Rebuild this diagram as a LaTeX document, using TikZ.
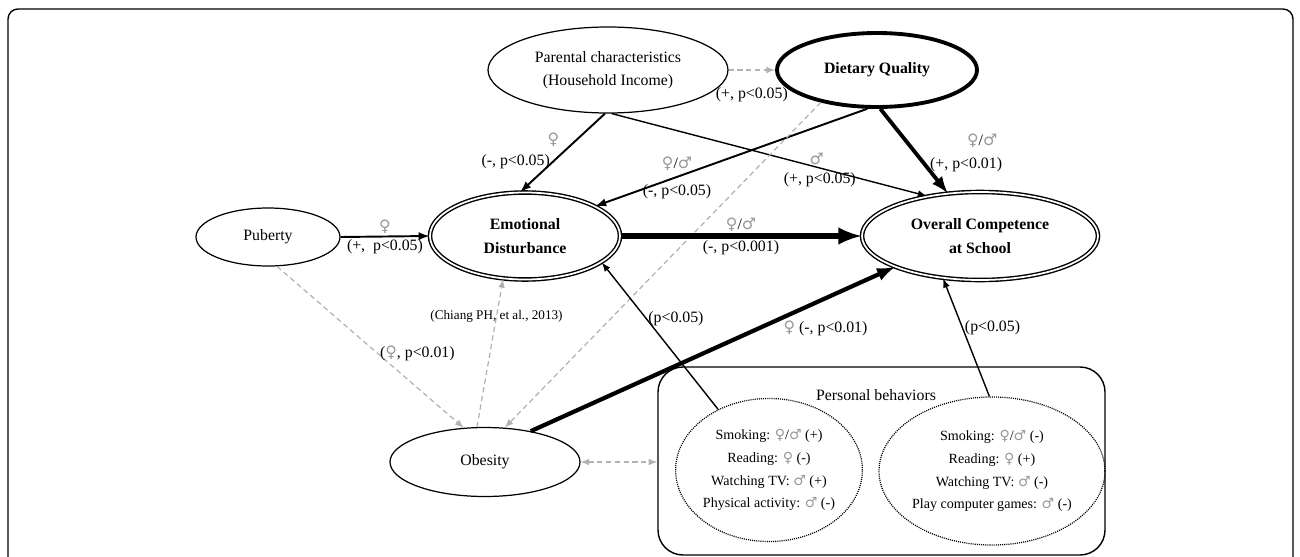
\documentclass[tikz,border=0pt]{standalone}
\usepackage{fontspec}
\setmainfont{Liberation Serif}
\newfontfamily\gendersym{DejaVu Sans}
\usetikzlibrary{shapes,arrows,positioning,calc,shapes.geometric}

\newcommand{\fsym}{{\gendersym\color{gray!80}♀}}
\newcommand{\msym}{{\gendersym\color{gray!80}♂}}

\begin{document}
\begin{tikzpicture}[
    var/.style={ellipse, draw=black, line width=0.7pt, inner sep=0pt, align=center, font=\fontsize{9}{13}\selectfont},
    key/.style={var, double, double distance=1pt, line width=0.8pt, font=\fontsize{9}{13.5}\selectfont\bfseries},
    group/.style={ellipse, draw=black, dash pattern=on 0.6pt off 0.6pt, line width=0.7pt, inner sep=0pt, align=center, font=\fontsize{8}{13}\selectfont},
    arrow/.style={->, >=latex, line width=0.8pt},
    link/.style={->, >=latex, draw=gray!60, dash pattern=on 3pt off 2pt, line width=0.7pt},
    note/.style={font=\fontsize{9}{11}\selectfont, inner sep=1pt, text=black}
]

\useasboundingbox (0,0) rectangle (26,-11.14);

% Outer frame
\draw[line width=0.8pt, rounded corners=0.2cm] (0.16,-0.18) rectangle (25.86,-11.6);

% Variables
\node[var, minimum width=4.8cm, minimum height=1.72cm] (parent) at (12.16,-1.40) {Parental characteristics\\(Household Income)};
\node[var, line width=2.2pt, minimum width=4.0cm, minimum height=1.48cm] (diet) at (17.54,-1.40) {\textbf{Dietary Quality}};
\node[var, minimum width=2.88cm, minimum height=1.16cm] (puberty) at (5.36,-4.74) {Puberty};
\node[key, minimum width=3.8cm, minimum height=1.74cm] (emotion) at (10.5,-4.72) {Emotional\\Disturbance};
\node[key, minimum width=4.72cm, minimum height=1.76cm] (school) at (19.6,-4.72) {Overall Competence\\at School};
\node[var, minimum width=3.8cm, minimum height=1.38cm] (obesity) at (9.7,-9.24) {Obesity};

% Personal behaviors
\node[draw, line width=0.8pt, rounded corners=0.5cm, minimum width=8.94cm, minimum height=3.76cm] (behav) at (17.63,-9.22) {};
\node[note] (behavtitle) at (17.52,-7.90) {Personal behaviors};
\node[group, minimum width=3.48cm, minimum height=2.86cm] (habitA) at (15.38,-9.4) {
    Smoking: \fsym/\msym\ (+)\\
    Reading: \fsym\ (-)\\
    Watching TV: \msym\ (+)\\
    Physical activity: \msym\ (-)
};
\node[group, minimum width=3.42cm, minimum height=2.96cm] (habitB) at (19.84,-9.42) {
    Smoking: \fsym/\msym\ (-)\\
    Reading: \fsym\ (+)\\
    Watching TV: \msym\ (-)\\
    Play computer games: \msym\ (-)
};

% Relationships
\draw[link] (parent.0) -- node[note, midway, below=0.3cm] {(+, p<0.05)} (diet.180);
\draw[arrow, line width=1.1pt] (parent.266) -- node[note, pos=0.33, left=0.3cm] {\fsym} node[note, pos=0.62, left=0pt] {(-, p<0.05)} (emotion.96);
\draw[arrow] (parent.275) -- node[note, pos=0.65, above=0pt] {\msym} node[note, pos=0.66, below=1pt] {(+, p<0.05)} (school.143);
\draw[arrow, line width=1.1pt] (diet.256) -- node[note, pos=0.7, above=2pt] {\fsym/\msym} node[note, pos=0.7, below=3pt] {(-, p<0.05)} (emotion.23);
\draw[arrow, line width=2.2pt] (diet.275) -- node[note, pos=0.38, right=1.15cm] {\fsym/\msym} node[note, pos=0.66, right=1pt] {(+, p<0.01)} (school.127);
\draw[link] (diet.210) -- (obesity.60);
\draw[arrow, line width=3.4pt] (emotion.0) -- node[note, above=0pt] {\fsym/\msym} node[note, below=0pt] {(-, p<0.001)} (school.180);
\draw[arrow, line width=1.1pt] (puberty.0) -- node[note, above] {\fsym} node[note, below] {(+, ~p<0.05)} (emotion.180);
\draw[link] (puberty.287) -- node[note, pos=0.54, right=0pt] {(\fsym, p<0.01)} (obesity.122);
\draw[link] (obesity.103) -- node[note, pos=0.75, font=\fontsize{7.5}{9}\selectfont] {(Chiang PH, et al., 2013)} (emotion.243);
\draw[arrow, line width=2.4pt] (obesity.34) -- node[note, pos=0.81, below=0.38cm] {\fsym\ (-, p<0.01)} (school.200);
\draw[arrow] (habitA.130) -- node[note, pos=0.62, right=0pt] {(p<0.05)} (emotion.341);
\draw[arrow] (habitB.92) -- node[note, pos=0.58, right=0pt] {(p<0.05)} (school.229);
\draw[link, <->] (obesity.east) -- (obesity.east -| behav.west);

\end{tikzpicture}
\end{document}
